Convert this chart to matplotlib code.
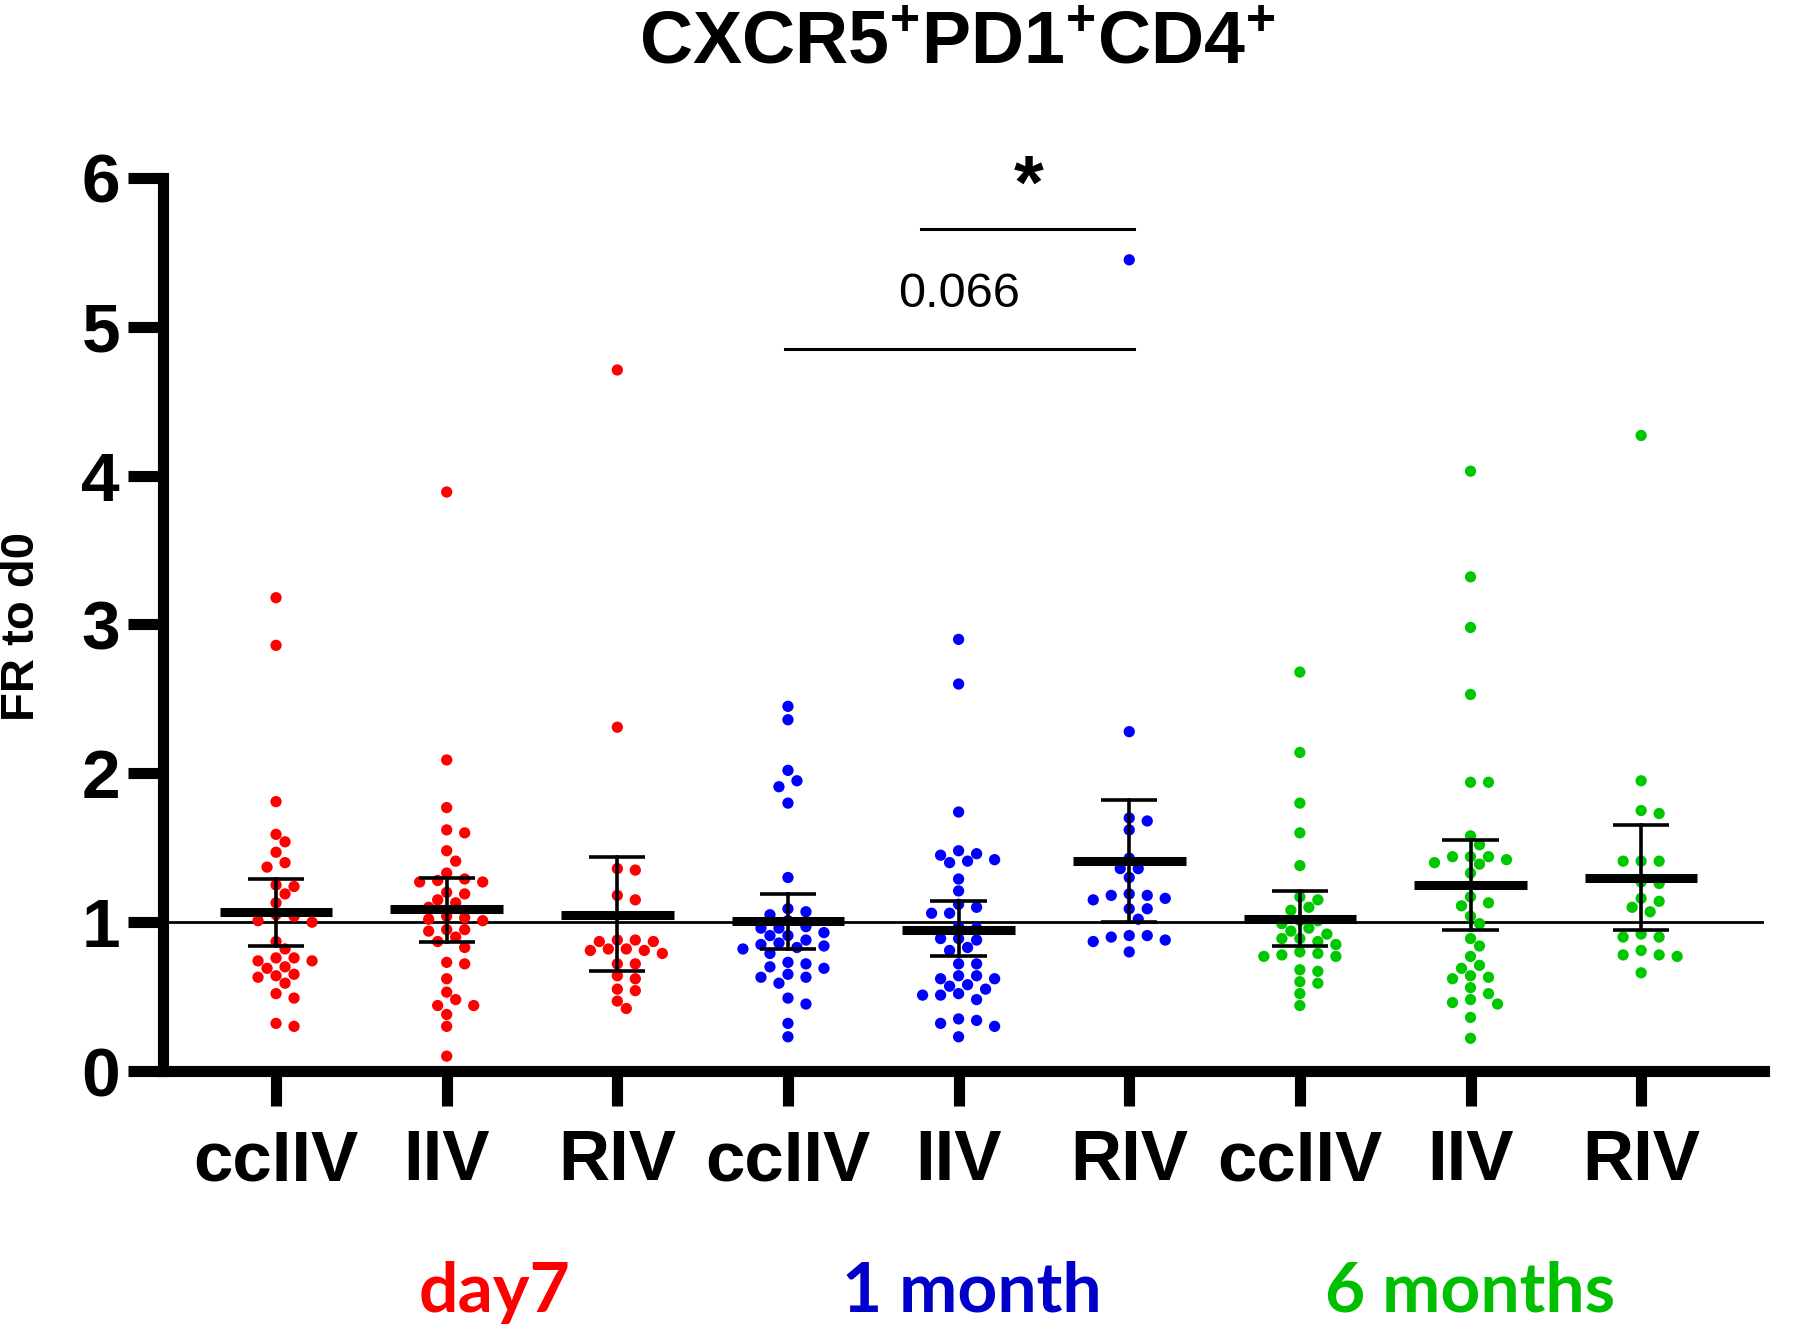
import numpy as np
import matplotlib
matplotlib.use("Agg")
import matplotlib.pyplot as plt
import matplotlib.transforms as mtransforms

plt.rcParams['font.family'] = ['Liberation Sans', 'DejaVu Sans']
plt.rcParams['mathtext.fontset'] = 'custom'
plt.rcParams['mathtext.rm'] = 'Liberation Sans:bold'
plt.rcParams['mathtext.bf'] = 'Liberation Sans:bold'

# values (fold change to d0)
day7_cciiv = [3.18, 2.86, 1.81, 1.59, 1.54, 1.47, 1.40, 1.37, 1.24, 1.25, 1.19, 1.13,
              1.04, 1.05, 1.01, 1.00, 0.87, 0.82, 0.76, 0.76, 0.74, 0.70, 0.74, 0.69,
              0.64, 0.65, 0.63, 0.59, 0.49, 0.52, 0.30, 0.32]
day7_iiv = [3.89, 2.09, 1.77, 1.62, 1.60, 1.48, 1.41, 1.33, 1.27, 1.28, 1.29, 1.27,
            1.20, 1.19, 1.15, 1.13, 1.10, 1.04, 1.03, 1.02, 1.01, 0.94, 0.95, 0.95,
            0.90, 0.87, 0.83, 0.72, 0.73, 0.62, 0.53, 0.48, 0.44, 0.44, 0.38, 0.30, 0.10]
day7_riv = [4.71, 2.31, 1.36, 1.35, 1.18, 1.15, 0.88, 0.87, 0.87, 0.88, 0.82, 0.82,
            0.81, 0.81, 0.79, 0.72, 0.72, 0.64, 0.62, 0.54, 0.55, 0.47, 0.42]
m1_cciiv = [2.45, 2.36, 2.02, 1.95, 1.91, 1.80, 1.30, 1.09, 1.07, 1.05, 1.01, 0.96,
            0.96, 0.93, 0.97, 0.91, 0.91, 0.88, 0.86, 0.85, 0.83, 0.82, 0.84, 0.79,
            0.73, 0.72, 0.70, 0.69, 0.65, 0.63, 0.63, 0.59, 0.49, 0.45, 0.32, 0.23]
m1_iiv = [2.90, 2.60, 1.74, 1.45, 1.42, 1.40, 1.48, 1.41, 1.46, 1.29, 1.21, 1.12,
          1.10, 1.06, 1.06, 0.96, 0.97, 0.89, 0.88, 0.89, 0.81, 0.83, 0.72, 0.72,
          0.64, 0.58, 0.52, 0.62, 0.55, 0.48, 0.64, 0.57, 0.51, 0.62, 0.51, 0.35,
          0.34, 0.32, 0.30, 0.23]
m1_riv = [5.45, 2.28, 1.68, 1.70, 1.62, 1.43, 1.36, 1.36, 1.30, 1.18, 1.18, 1.19,
          1.16, 1.15, 1.09, 1.09, 1.02, 0.91, 0.90, 0.87, 0.88, 0.91, 0.80]
m6_cciiv = [2.68, 2.14, 1.80, 1.60, 1.38, 1.17, 1.10, 1.15, 1.08, 1.01, 1.01, 0.99,
            0.96, 0.94, 0.92, 0.89, 0.89, 0.87, 0.85, 0.79, 0.80, 0.77, 0.77, 0.78,
            0.67, 0.68, 0.59, 0.60, 0.52, 0.44]
m6_iiv = [4.03, 3.32, 2.98, 2.53, 1.94, 1.94, 1.58, 1.52, 1.44, 1.44, 1.44, 1.42,
          1.39, 1.40, 1.33, 1.17, 1.11, 1.13, 1.04, 0.99, 0.84, 0.89, 0.77, 0.71,
          0.69, 0.63, 0.62, 0.64, 0.56, 0.52, 0.48, 0.45, 0.46, 0.36, 0.22]
m6_riv = [4.27, 1.95, 1.73, 1.75, 1.41, 1.41, 1.41, 1.27, 1.26, 1.16, 1.14, 1.10,
          1.07, 0.92, 0.90, 0.90, 0.81, 0.78, 0.77, 0.78, 0.66]

groups = [day7_cciiv, day7_iiv, day7_riv, m1_cciiv, m1_iiv, m1_riv,
          m6_cciiv, m6_iiv, m6_riv]
vaccines = ["ccIIV", "IIV", "RIV"] * 3
centers = [1.07, 1.09, 1.05, 1.01, 0.95, 1.41, 1.02, 1.25, 1.30]
err_hi = [1.29, 1.30, 1.44, 1.19, 1.14, 1.82, 1.21, 1.55, 1.65]
err_lo = [0.84, 0.87, 0.67, 0.82, 0.77, 1.00, 0.84, 0.95, 0.95]

timepoints = ["day7", "1 month", "6 months"]
time_pos = [1.28, 4.08, 7.0]
dot_colors = ["#ff0000", "#0000ff", "#00c800"]
text_colors = ["#ff0000", "#0000c8", "#00bf00"]


def swarm(vals, xscale, yscale, dia, step):
    # simple beeswarm: place each point at the smallest free offset
    order = np.argsort(vals)[::-1]
    placed = []
    offs = np.zeros(len(vals))
    for i in order:
        y = vals[i] * yscale
        k = 0
        while True:
            for cand in ([0] if k == 0 else [k, -k]):
                dx = cand * step
                ok = all((dx - px) ** 2 + (y - py) ** 2 >= dia ** 2 for px, py in placed)
                if ok:
                    break
            if ok:
                break
            k += 1
        placed.append((dx, y))
        offs[i] = dx / xscale
    return offs


fig = plt.figure(figsize=(18, 13.27), dpi=100)
ax = fig.add_axes([0.0906, 0.1929, 0.98 - 0.0906, 0.673])

xpx = 170.6
ypx = 149.0
for gi, vals in enumerate(groups):
    vals = np.array(vals)
    offs = swarm(vals, xpx, ypx, 11.0, 9.0)
    ax.scatter(gi + offs, vals, s=66, color=dot_colors[gi // 3],
               edgecolors='none', zorder=3, clip_on=False)
    # mean bar and error bar
    ax.plot([gi - 0.33, gi + 0.33], [centers[gi]] * 2, color='black',
            lw=6.5, solid_capstyle='butt', zorder=4)
    ax.plot([gi, gi], [err_lo[gi], err_hi[gi]], color='black', lw=2.6, zorder=4)
    for e in (err_lo[gi], err_hi[gi]):
        ax.plot([gi - 0.165, gi + 0.165], [e, e], color='black', lw=2.6,
                solid_capstyle='butt', zorder=4)

ax.axhline(1, color='black', lw=2, zorder=2)

ax.set_xlim(-0.662, 8.72)
ax.set_ylim(0, 6)
ax.set_yticks(range(7))
ax.set_xticks(range(9))
ax.set_xticklabels(vaccines)
for s in ['top', 'right']:
    ax.spines[s].set_visible(False)
for s in ['left', 'bottom']:
    ax.spines[s].set_linewidth(8)
ax.tick_params(axis='both', width=8, length=25, direction='out')
ax.tick_params(axis='y', labelsize=50, pad=6)
ax.tick_params(axis='x', labelsize=51, pad=17)
for lab in ax.get_xticklabels() + ax.get_yticklabels():
    lab.set_fontweight('bold')

# significance brackets
ax.plot([2.98, 5.03], [4.85, 4.85], color='black', lw=2.2, clip_on=False)
ax.plot([3.78, 5.03], [5.66, 5.66], color='black', lw=2.2, clip_on=False)
ax.text(4.0, 5.22, "0.066", fontsize=35, ha='center', va='center')
ax.text(4.41, 5.93, "*", fontsize=55, fontweight='bold', ha='center',
        va='center', clip_on=False)

fig.text(0.012, 1 - 626 / 1327, "FR to d0", rotation=90, fontsize=34,
         fontweight='bold', ha='center', va='center')
fig.text(0.532, 1 - 63 / 1327, r"$\mathbf{CXCR5^{+}PD1^{+}CD4^{+}}$",
         fontsize=53, ha='center', va='baseline')

trans = mtransforms.blended_transform_factory(ax.transData, fig.transFigure)
for name, xp, c in zip(timepoints, time_pos, text_colors):
    ax.text(xp, 1 - 1312 / 1327, name, transform=trans, fontsize=50,
            fontweight='bold', family=['Lato', 'DejaVu Sans'], color=c,
            ha='center', va='baseline')

fig.savefig("out.png", dpi=100)
